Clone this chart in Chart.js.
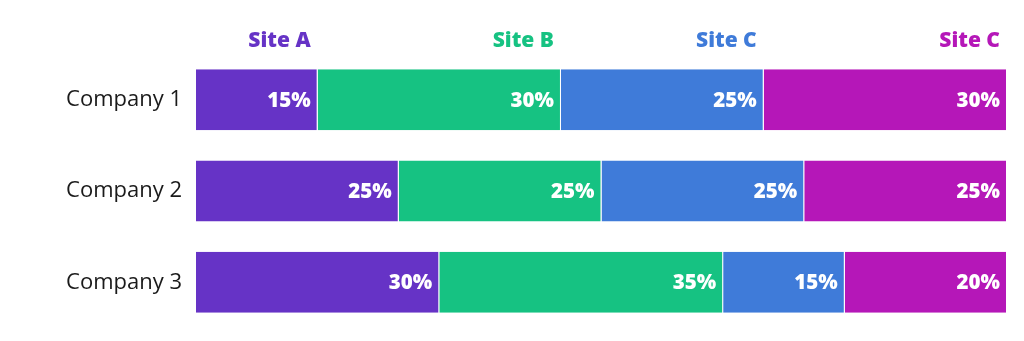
<!DOCTYPE html>
<html>
<head>
<meta charset="utf-8">
<script src="https://cdn.jsdelivr.net/npm/chart.js@4"></script>
<style>
html,body{margin:0;padding:0;background:#fff;}
#wrap{width:1024px;height:341px;position:relative;}
</style>
</head>
<body>
<div id="wrap"><canvas id="c" width="1024" height="341"></canvas></div>
<script>
const categories = ["Company 1", "Company 2", "Company 3"];
const seriesNames = ["Site A", "Site B", "Site C", "Site C"];
const siteA = [15, 25, 30];
const siteB = [30, 25, 35];
const siteC = [25, 25, 15];
const siteD = [30, 25, 20];
const colors = ["#6633C6", "#16C282", "#3F7BD9", "#B517B8"];

const seriesValues = [siteA, siteB, siteC, siteD];

const labelPlugin = {
  id: 'segLabels',
  afterDatasetsDraw(chart) {
    const ctx = chart.ctx;
    ctx.save();
    ctx.textAlign = 'right';
    ctx.textBaseline = 'middle';
    chart.data.datasets.forEach((ds, di) => {
      const meta = chart.getDatasetMeta(di);
      meta.data.forEach((bar, i) => {
        ctx.fillStyle = '#ffffff';
        ctx.font = '800 20.5px "Open Sans", sans-serif';
        ctx.fillText(ds.data[i] + '%', bar.x - 7, bar.y + 1);
        if (i === 0) {
          ctx.fillStyle = colors[di];
          ctx.font = '800 21px "Open Sans", sans-serif';
          ctx.fillText(ds.label, bar.x - 7, bar.y - bar.height / 2 - 28);
        }
      });
    });
    ctx.restore();
  }
};

new Chart(document.getElementById('c'), {
  type: 'bar',
  data: {
    labels: categories,
    datasets: seriesValues.map((vals, i) => ({
      label: seriesNames[i],
      data: vals,
      backgroundColor: colors[i],
      borderColor: '#ffffff',
      borderWidth: {left: 0, right: 1, top: 0, bottom: 0},
      borderSkipped: false,
      barPercentage: 0.667,
      categoryPercentage: 1.0
    }))
  },
  options: {
    indexAxis: 'y',
    responsive: false,
    animation: false,
    layout: {padding: {top: 54, bottom: 13, left: 10, right: 17}},
    plugins: {legend: {display: false}, tooltip: {enabled: false}},
    scales: {
      x: {stacked: true, min: 0, max: 100, display: false},
      y: {
        stacked: true,
        grid: {display: false, drawBorder: false},
        border: {display: false},
        ticks: {
          color: '#1a1a1a',
          padding: 6,
          font: {family: '"Open Sans", sans-serif', size: 22, lineHeight: 0.5}
        },
        afterFit(scale) { scale.width = 186; }
      }
    }
  },
  plugins: [labelPlugin]
});
</script>
</body>
</html>
